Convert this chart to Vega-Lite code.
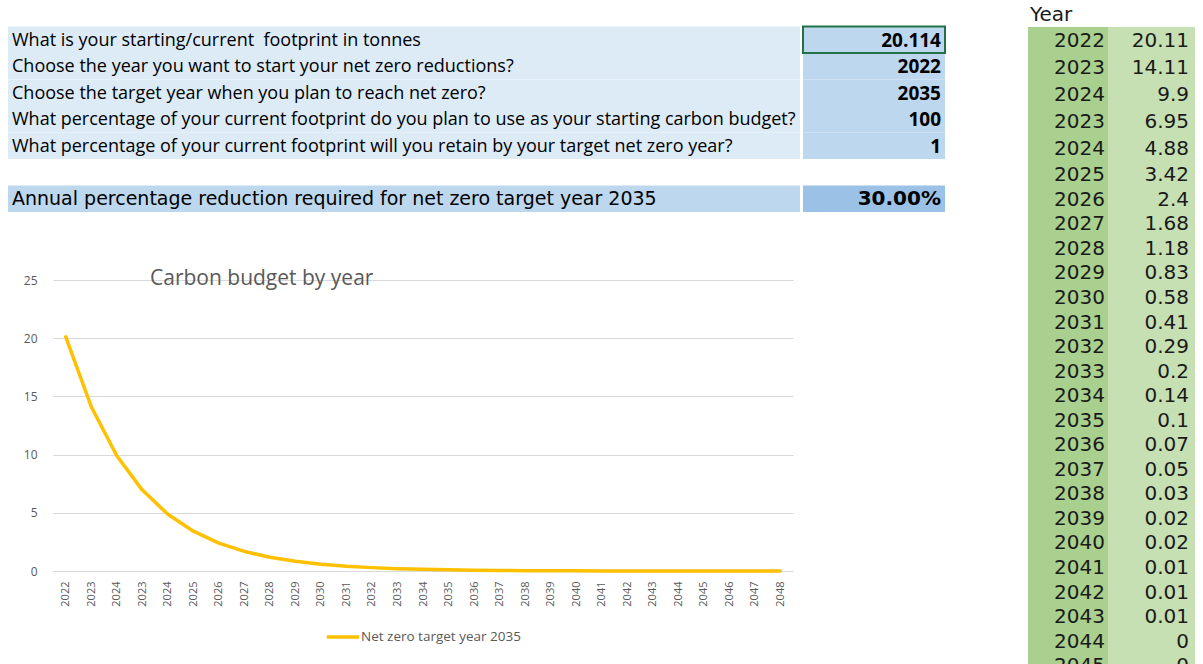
{
  "$schema": "https://vega.github.io/schema/vega-lite/v6.json",
  "background": "white",
  "padding": {"left": 8, "top": 0, "right": 0, "bottom": 0},
  "config": {"view": {"stroke": null}, "legend": {"layout": {"bottom": {"anchor": "middle"}}}},
  "datasets": {
    "budget": [
      {"idx": 0, "yr": "2022", "v": 20.11},
      {"idx": 1, "yr": "2023", "v": 14.11},
      {"idx": 2, "yr": "2024", "v": 9.9},
      {"idx": 3, "yr": "2023", "v": 6.95},
      {"idx": 4, "yr": "2024", "v": 4.88},
      {"idx": 5, "yr": "2025", "v": 3.42},
      {"idx": 6, "yr": "2026", "v": 2.4},
      {"idx": 7, "yr": "2027", "v": 1.68},
      {"idx": 8, "yr": "2028", "v": 1.18},
      {"idx": 9, "yr": "2029", "v": 0.83},
      {"idx": 10, "yr": "2030", "v": 0.58},
      {"idx": 11, "yr": "2031", "v": 0.41},
      {"idx": 12, "yr": "2032", "v": 0.29},
      {"idx": 13, "yr": "2033", "v": 0.2},
      {"idx": 14, "yr": "2034", "v": 0.14},
      {"idx": 15, "yr": "2035", "v": 0.1},
      {"idx": 16, "yr": "2036", "v": 0.07},
      {"idx": 17, "yr": "2037", "v": 0.05},
      {"idx": 18, "yr": "2038", "v": 0.03},
      {"idx": 19, "yr": "2039", "v": 0.02},
      {"idx": 20, "yr": "2040", "v": 0.02},
      {"idx": 21, "yr": "2041", "v": 0.01},
      {"idx": 22, "yr": "2042", "v": 0.01},
      {"idx": 23, "yr": "2043", "v": 0.01},
      {"idx": 24, "yr": "2044", "v": 0},
      {"idx": 25, "yr": "2045", "v": 0},
      {"idx": 26, "yr": "2046", "v": 0},
      {"idx": 27, "yr": "2047", "v": 0},
      {"idx": 28, "yr": "2048", "v": 0}
    ],
    "sheet": [
      {"r": 0, "kind": "blank", "q": "", "v": ""},
      {"r": 1, "kind": "input", "q": "What is your starting/current \u00a0footprint in tonnes", "v": "20.114"},
      {"r": 2, "kind": "input", "q": "Choose the year you want to start your net zero reductions?", "v": "2022"},
      {"r": 3, "kind": "input", "q": "Choose the target year when you plan to reach net zero?", "v": "2035"},
      {"r": 4, "kind": "input", "q": "What percentage of your current footprint do you plan to use as your starting carbon budget?", "v": "100"},
      {"r": 5, "kind": "input", "q": "What percentage of your current footprint will you retain by your target net zero year?", "v": "1"},
      {"r": 6, "kind": "blank", "q": "", "v": ""},
      {"r": 7, "kind": "result", "q": "Annual percentage reduction required for net zero target year 2035", "v": "30.00%"}
    ]
  },
  "spacing": 82,
  "resolve": {"scale": {"color": "independent"}, "legend": {"color": "independent"}},
  "hconcat": [
    {
      "spacing": 56,
      "resolve": {"scale": {"color": "independent"}, "legend": {"color": "independent"}},
      "vconcat": [
        {
          "spacing": 2,
          "hconcat": [
            {
              "width": 792, "height": 212,
              "data": {"name": "sheet"},
              "encoding": {"y": {"field": "r", "type": "ordinal", "axis": null}},
              "layer": [
                {
                  "mark": {"type": "rect"},
                  "encoding": {
                    "x": {"datum": 0, "type": "quantitative", "scale": {"domain": [0, 1]}, "axis": null},
                    "x2": {"datum": 1},
                    "color": {"condition": [{"test": "datum.kind === 'input'", "value": "#DDEBF7"}, {"test": "datum.kind === 'result'", "value": "#BDD7EE"}], "value": "#FFFFFF"}
                  }
                },
                {
                  "transform": [{"filter": "datum.kind === 'input'"}],
                  "mark": {"type": "text", "align": "left", "baseline": "middle", "dx": 4, "dy": 1, "font": "Open Sans", "fontSize": 18, "color": "#000000"},
                  "encoding": {
                    "x": {"datum": 0, "type": "quantitative", "scale": {"domain": [0, 1]}, "axis": null},
                    "text": {"field": "q"}
                  }
                },
                {
                  "transform": [{"filter": "datum.kind === 'result'"}],
                  "mark": {"type": "text", "align": "left", "baseline": "middle", "dx": 4, "font": "DejaVu Sans", "fontSize": 19, "color": "#000000"},
                  "encoding": {
                    "x": {"datum": 0, "type": "quantitative", "scale": {"domain": [0, 1]}, "axis": null},
                    "text": {"field": "q"}
                  }
                }
              ]
            },
            {
              "width": 142, "height": 212,
              "data": {"name": "sheet"},
              "encoding": {"y": {"field": "r", "type": "ordinal", "axis": null}},
              "layer": [
                {
                  "mark": {"type": "rect"},
                  "encoding": {
                    "x": {"datum": 0, "type": "quantitative", "scale": {"domain": [0, 1]}, "axis": null},
                    "x2": {"datum": 1},
                    "color": {"condition": [{"test": "datum.kind === 'input'", "value": "#BDD7EE"}, {"test": "datum.kind === 'result'", "value": "#9BC2E6"}], "value": "#FFFFFF"}
                  }
                },
                {
                  "transform": [{"filter": "datum.r === 1"}],
                  "mark": {"type": "rect", "filled": false, "stroke": "#217346", "strokeWidth": 2},
                  "encoding": {
                    "x": {"datum": 0, "type": "quantitative", "scale": {"domain": [0, 1]}, "axis": null},
                    "x2": {"datum": 1}
                  }
                },
                {
                  "transform": [{"filter": "datum.kind === 'input'"}],
                  "mark": {"type": "text", "align": "right", "baseline": "middle", "dx": -4, "dy": 1, "font": "Open Sans", "fontSize": 19, "fontWeight": "bold", "color": "#000000"},
                  "encoding": {
                    "x": {"datum": 1, "type": "quantitative", "scale": {"domain": [0, 1]}, "axis": null},
                    "text": {"field": "v"}
                  }
                },
                {
                  "transform": [{"filter": "datum.kind === 'result'"}],
                  "mark": {"type": "text", "align": "right", "baseline": "middle", "dx": -4, "font": "DejaVu Sans", "fontSize": 20, "fontWeight": "bold", "color": "#000000"},
                  "encoding": {
                    "x": {"datum": 1, "type": "quantitative", "scale": {"domain": [0, 1]}, "axis": null},
                    "text": {"field": "v"}
                  }
                }
              ]
            }
          ]
        },
        {
          "spacing": 0,
          "resolve": {"scale": {"color": "independent"}, "legend": {"color": "independent"}},
          "hconcat": [
            {"width": 15, "height": 1, "data": {"values": []}, "mark": "point"},
            {
              "width": 740, "height": 291,
              "data": {"name": "budget"},
              "title": {"text": "Carbon budget by year", "anchor": "start", "frame": "group", "dx": 97, "offset": -26, "baseline": "middle", "font": "Open Sans", "fontSize": 21, "fontWeight": "normal", "color": "#595959"},
              "mark": {"type": "line", "strokeWidth": 3.5, "strokeJoin": "round", "strokeCap": "round"},
              "encoding": {
                "x": {"field": "idx", "type": "ordinal", "axis": {"title": null, "labelExpr": "['2022','2023','2024','2023','2024','2025','2026','2027','2028','2029','2030','2031','2032','2033','2034','2035','2036','2037','2038','2039','2040','2041','2042','2043','2044','2045','2046','2047','2048'][datum.value]", "labelAngle": -90, "labelFont": "Open Sans", "labelFontSize": 11, "labelColor": "#595959", "ticks": false, "domainColor": "#D9D9D9", "labelPadding": 10, "grid": false}},
                "y": {"field": "v", "type": "quantitative", "scale": {"domain": [0, 25], "nice": false}, "axis": {"title": null, "values": [0, 5, 10, 15, 20, 25], "domain": false, "ticks": false, "gridColor": "#D9D9D9", "labelColor": "#595959", "labelFont": "Open Sans", "labelFontSize": 12, "labelPadding": 16}},
                "color": {"datum": "Net zero target year 2035", "scale": {"range": ["#FFC000"]}, "legend": {"orient": "bottom", "direction": "horizontal", "title": null, "symbolType": "stroke", "symbolSize": 1050, "symbolStrokeWidth": 3.5, "labelFont": "Open Sans", "labelFontSize": 13.5, "labelColor": "#595959", "offset": 12, "labelOffset": 0}},
                "order": {"field": "idx"}
              }
            }
          ]
        }
      ]
    },
    {
      "spacing": 0,
      "vconcat": [
        {
          "width": 167, "height": 27,
          "data": {"values": [{"h": "Year"}]},
          "mark": {"type": "text", "align": "left", "baseline": "middle", "dx": 2, "dy": 1, "font": "DejaVu Sans", "fontSize": 20, "color": "#1a1a1a"},
          "encoding": {
            "x": {"datum": 0, "type": "quantitative", "scale": {"domain": [0, 1]}, "axis": null},
            "text": {"field": "h"}
          }
        },
        {
          "spacing": 0,
          "hconcat": [
            {
              "width": 80, "height": 136,
              "view": {"fill": "#A9D08E", "stroke": null},
              "data": {"name": "budget"},
              "transform": [{"filter": "datum.idx <= 4"}],
              "mark": {"type": "text", "align": "right", "baseline": "middle", "dx": -3, "font": "DejaVu Sans", "fontSize": 20, "color": "#1a1a1a"},
              "encoding": {
                "x": {"datum": 1, "type": "quantitative", "scale": {"domain": [0, 1]}, "axis": null},
                "y": {"field": "idx", "type": "ordinal", "axis": null},
                "text": {"field": "yr"}
              }
            },
            {
              "width": 87, "height": 136,
              "view": {"fill": "#C6E0B4", "stroke": null},
              "data": {"name": "budget"},
              "transform": [{"filter": "datum.idx <= 4"}],
              "mark": {"type": "text", "align": "right", "baseline": "middle", "dx": -6, "font": "DejaVu Sans", "fontSize": 20, "color": "#1a1a1a"},
              "encoding": {
                "x": {"datum": 1, "type": "quantitative", "scale": {"domain": [0, 1]}, "axis": null},
                "y": {"field": "idx", "type": "ordinal", "axis": null},
                "text": {"field": "v", "type": "nominal"}
              }
            }
          ]
        },
        {
          "spacing": 0,
          "hconcat": [
            {
              "width": 80, "height": 515.5,
              "view": {"fill": "#A9D08E", "stroke": null},
              "data": {"name": "budget"},
              "transform": [{"filter": "datum.idx >= 5 && datum.idx <= 25"}],
              "mark": {"type": "text", "align": "right", "baseline": "middle", "dx": -3, "font": "DejaVu Sans", "fontSize": 20, "color": "#1a1a1a"},
              "encoding": {
                "x": {"datum": 1, "type": "quantitative", "scale": {"domain": [0, 1]}, "axis": null},
                "y": {"field": "idx", "type": "ordinal", "axis": null},
                "text": {"field": "yr"}
              }
            },
            {
              "width": 87, "height": 515.5,
              "view": {"fill": "#C6E0B4", "stroke": null},
              "data": {"name": "budget"},
              "transform": [{"filter": "datum.idx >= 5 && datum.idx <= 25"}],
              "mark": {"type": "text", "align": "right", "baseline": "middle", "dx": -6, "font": "DejaVu Sans", "fontSize": 20, "color": "#1a1a1a"},
              "encoding": {
                "x": {"datum": 1, "type": "quantitative", "scale": {"domain": [0, 1]}, "axis": null},
                "y": {"field": "idx", "type": "ordinal", "axis": null},
                "text": {"field": "v", "type": "nominal"}
              }
            }
          ]
        }
      ]
    }
  ]
}
